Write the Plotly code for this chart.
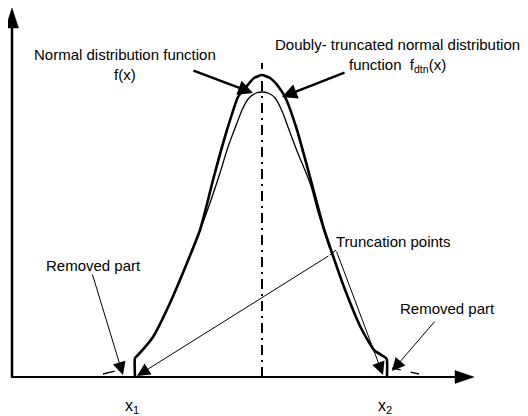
import plotly.graph_objects as go

# --- data (x position, density height) ---
trunc_x = [135, 135, 138, 153, 170, 187, 200, 206, 213, 227, 238, 246, 254, 262, 270, 278, 286, 297, 310, 318, 324, 331, 344, 361, 374, 386, 387, 387]
trunc_y = [0, 19, 22, 40, 74, 114, 147, 169, 197, 247, 280, 290, 299, 302, 299, 291, 278, 247, 200, 170, 148, 127, 90, 49, 27, 19, 17, 0]

normal_x = [190, 205, 220, 228, 237, 243, 249, 256, 262, 268, 275, 282, 288, 297, 310, 318, 330]
normal_y = [121, 160, 204, 230, 254, 269, 279, 284, 285, 284, 279, 266, 250, 226, 194, 165, 128]

tail_left_x = [103, 115, 135]
tail_left_y = [3, 6, 11]
tail_right_x = [392, 401, 411, 419]
tail_right_y = [9, 7, 5, 3]

mu = 262          # centre of the distribution
x1, x2 = 135, 387  # truncation points

# page offset of the plot (browser body margin) compensated in the axis ranges
OFF = 8

fig = go.Figure()
fig.add_trace(go.Scatter(x=normal_x, y=normal_y, mode="lines", line=dict(color="black", width=1.3, shape="spline"), hoverinfo="skip"))
fig.add_trace(go.Scatter(x=tail_left_x, y=tail_left_y, mode="lines", line=dict(color="black", width=1.3, dash="12px,40px"), hoverinfo="skip"))
fig.add_trace(go.Scatter(x=tail_right_x, y=tail_right_y, mode="lines", line=dict(color="black", width=1.3, dash="9px,10px"), hoverinfo="skip"))
fig.add_trace(go.Scatter(x=trunc_x, y=trunc_y, mode="lines", line=dict(color="black", width=2.6, shape="spline", smoothing=0.5), hoverinfo="skip"))

shapes = []
# axes
shapes.append(dict(type="line", x0=12, y0=0, x1=12, y1=352, line=dict(color="black", width=2.5)))
shapes.append(dict(type="path", path="M 5.5 349 L 18.5 349 L 12 369 Z", fillcolor="black", line=dict(color="black", width=0.5)))
shapes.append(dict(type="line", x0=11, y0=0, x1=458, y1=0, line=dict(color="black", width=2.2)))
shapes.append(dict(type="path", path="M 455 6.5 L 455 -6.5 L 474 0 Z", fillcolor="black", line=dict(color="black", width=0.5)))
# centre dash-dot line
shapes.append(dict(type="line", x0=mu, y0=0, x1=mu, y1=314, line=dict(color="black", width=2, dash="10px,5px,2px,5px")))
# truncation-points connector
shapes.append(dict(type="line", x0=330, y0=122, x1=336, y1=127, line=dict(color="black", width=1)))
fig.update_layout(shapes=shapes)

font = dict(family="Liberation Sans, Arial, sans-serif", size=15, color="black")

def arrow(tx, ty, ax, ay, w, size):
    fig.add_annotation(x=tx, y=ty, ax=ax, ay=ay, xref="x", yref="y", axref="x", ayref="y",
                       text="", showarrow=True, arrowhead=2, arrowsize=size, arrowwidth=w, arrowcolor="black")

arrow(253, 284, 192, 307, 2.4, 1.25)
arrow(282, 280, 346, 305, 2.4, 1.25)
arrow(123, 2, 92, 104, 1, 2.6)
arrow(392, 6, 436, 57, 1, 2.6)
arrow(x1 + 2, 1, 330, 122, 1, 2.6)
arrow(383, 2, 336, 127, 1, 2.6)

def label(x, y, text, size=15):
    f = dict(font); f["size"] = size
    fig.add_annotation(x=x, y=y, xref="x", yref="y", text=text, showarrow=False, font=f,
                       xanchor="center", yanchor="middle", align="center")

label(125, 313, "Normal distribution function<br>f(x)")
label(397, 322, "Doubly- truncated normal distribution<br>function&nbsp; f<sub>dtn</sub>(x)")
label(393, 136, "Truncation points")
label(93, 112, "Removed part")
label(447, 69, "Removed part")
label(x1 - 3, -29, "x<sub>1</sub>", 16)
label(x2 - 2, -29, "x<sub>2</sub>", 16)

fig.update_layout(
    width=528, height=416, autosize=False,
    margin=dict(l=0, r=0, t=0, b=0, pad=0),
    paper_bgcolor="white", plot_bgcolor="white",
    showlegend=False,
    xaxis=dict(range=[OFF, 528 + OFF], visible=False, fixedrange=True),
    yaxis=dict(range=[-39 - OFF, 377 - OFF], visible=False, fixedrange=True),
)

fig.write_html("out.html")
